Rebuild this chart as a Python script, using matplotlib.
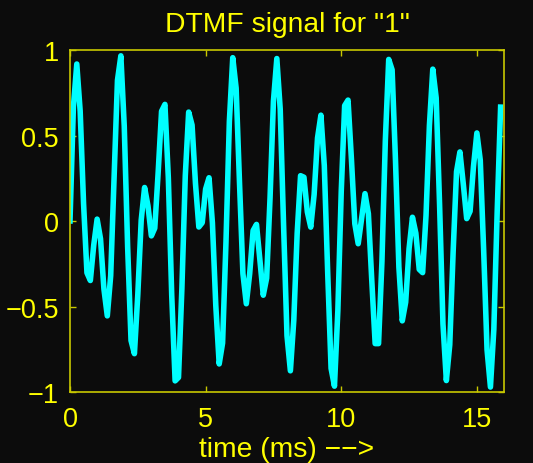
import numpy as np
import matplotlib
matplotlib.use("Agg")
import matplotlib.pyplot as plt

# DTMF "1" samples (697 Hz + 1209 Hz, 8 kHz), one per 0.125 ms
t_ms = np.arange(128) / 8.0
signal = [
    0.000, 0.667, 0.918, 0.643, 0.102, -0.303, -0.348, -0.141,
    0.011, -0.104, -0.397, -0.555, -0.320, 0.260, 0.823, 0.966,
    0.555, -0.151, -0.699, -0.776, -0.429, 0.005, 0.196, 0.088,
    -0.087, -0.042, 0.283, 0.642, 0.682, 0.253, -0.433, -0.935,
    -0.915, -0.394, 0.264, 0.637, 0.561, 0.221, -0.035, -0.010,
    0.187, 0.253, -0.011, -0.495, -0.836, -0.714, -0.125, 0.582,
    0.955, 0.777, 0.220, -0.308, -0.484, -0.307, -0.056, -0.020,
    -0.229, -0.434, -0.334, 0.135, 0.701, 0.950, 0.654, -0.031,
    -0.671, -0.876, -0.581, -0.072, 0.265, 0.256, 0.053, -0.036,
    0.155, 0.485, 0.619, 0.324, -0.300, -0.862, -0.966, -0.523,
    0.174, 0.675, 0.707, 0.362, -0.016, -0.133, 0.013, 0.160,
    0.043, -0.346, -0.717, -0.717, -0.236, 0.469, 0.945, 0.884,
    0.352, -0.270, -0.584, -0.475, -0.162, 0.022, -0.071, -0.283,
    -0.302, 0.032, 0.558, 0.888, 0.720, 0.096, -0.602, -0.933,
    -0.724, -0.180, 0.289, 0.404, 0.215, 0.014, 0.057, 0.319,
    0.515, 0.356, -0.171, -0.753, -0.971, -0.634, 0.060, 0.666,
]
xticks = [0, 5, 10, 15]
yticks = [-1, -0.5, 0, 0.5, 1]
ytick_labels = ["\u22121", "\u22120.5", "0", "0.5", "1"]

bg = "#0c0c0c"
fg = "#ffff00"
frame = "#c8c800"
plt.rcParams["font.family"] = ["Liberation Sans", "DejaVu Sans"]

fig = plt.figure(figsize=(5.33, 4.64), dpi=100, facecolor=bg)
ax = fig.add_axes([70/533, 71/464, 434/533, 342/464], facecolor=bg)
ax.plot(t_ms, signal, color="#00ffff", lw=4.0)
ax.set_xlim(0, 16)
ax.set_ylim(-1, 1)
ax.set_xticks(xticks)
ax.set_yticks(yticks)
ax.set_yticklabels(ytick_labels)
ax.tick_params(direction="in", length=4, width=1, colors=frame, labelcolor=fg,
               labelsize=19.5, top=True, right=True, pad=8)
ax.tick_params(axis="x", pad=10)
for s in ax.spines.values():
    s.set_color(frame)
    s.set_linewidth(1.2)
ax.set_title('DTMF signal for "1"', color=fg, fontsize=20.3, pad=14)
ax.set_xlabel("time (ms) \u2212\u2212>", color=fg, fontsize=20.3, labelpad=3)

fig.savefig("out.png", dpi=100, facecolor=bg)
